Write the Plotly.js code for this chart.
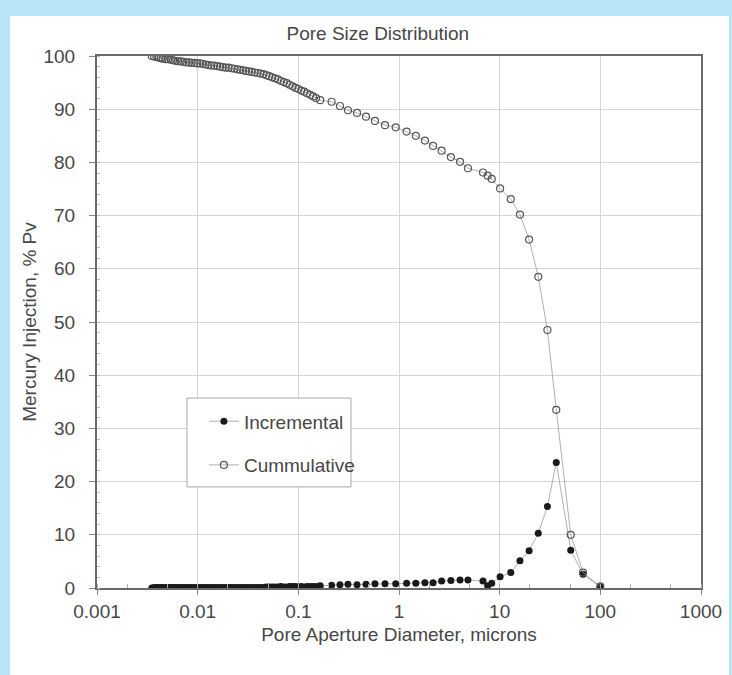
<!DOCTYPE html>
<html>
<head>
<meta charset="utf-8">
<script src="https://cdn.plot.ly/plotly-3.0.1.min.js"></script>
<style>
  html, body { margin: 0; padding: 0; background: #b8e4f8; width: 732px; height: 675px; overflow: hidden; }
  #chart { position: absolute; left: 10px; top: 16px; width: 719px; height: 659px; background: #ffffff; }
</style>
</head>
<body>
<div id="chart"></div>
<script>
// Pore aperture diameter, microns
const diameter = [
  0.0035, 0.0037, 0.0039, 0.0041, 0.0043, 0.0045, 0.0048, 0.0051, 0.0054, 0.0057,
  0.0060, 0.0064, 0.0068, 0.0072, 0.0077, 0.0082, 0.0087, 0.0093, 0.0099, 0.0106,
  0.0113, 0.0120, 0.0128, 0.0137, 0.0146, 0.0156, 0.0167, 0.0178, 0.0190, 0.0203,
  0.0217, 0.0232, 0.0248, 0.0265, 0.0283, 0.0302, 0.0323, 0.0345, 0.0369, 0.0394,
  0.0421, 0.0450, 0.0481, 0.0514, 0.0550, 0.0588, 0.0628, 0.0672, 0.0718, 0.0768,
  0.0820, 0.0877, 0.0937, 0.100, 0.107, 0.114, 0.122, 0.131, 0.140, 0.150,
  0.165, 0.214, 0.259, 0.311, 0.383, 0.470, 0.577, 0.726, 0.927, 1.19,
  1.47, 1.81, 2.18, 2.65, 3.28, 4.04, 4.84, 6.83, 7.6, 8.34,
  10.1, 12.9, 15.9, 19.6, 24.2, 29.8, 36.5, 50.8, 67.3, 100
];
// Cumulative mercury injection, % Pv
const cumulative = [
  100.0, 99.9, 99.8, 99.7, 99.6, 99.5, 99.4, 99.4, 99.3, 99.2,
  99.1, 99.0, 99.0, 98.9, 98.8, 98.8, 98.7, 98.7, 98.6, 98.6,
  98.5, 98.4, 98.3, 98.2, 98.2, 98.1, 98.0, 97.9, 97.8, 97.8,
  97.7, 97.6, 97.5, 97.4, 97.3, 97.2, 97.1, 97.0, 96.9, 96.8,
  96.7, 96.6, 96.4, 96.2, 96.0, 95.8, 95.6, 95.3, 95.1, 94.9,
  94.6, 94.3, 94.0, 93.8, 93.5, 93.3, 93.0, 92.7, 92.4, 92.1,
  91.7, 91.4, 90.6, 89.8, 89.3, 88.6, 87.8, 87.0, 86.6, 85.8,
  85.0, 84.1, 83.1, 82.2, 81.0, 80.1, 78.9, 78.1, 77.5, 76.9,
  75.1, 73.1, 70.2, 65.5, 58.5, 48.5, 33.5, 10.0, 2.9, 0.3
];
// Incremental mercury injection, % Pv
const incremental = [
  0.0, 0.1, 0.1, 0.1, 0.1, 0.1, 0.1, 0.1, 0.1, 0.1,
  0.1, 0.1, 0.1, 0.1, 0.1, 0.1, 0.1, 0.1, 0.1, 0.1,
  0.1, 0.1, 0.1, 0.1, 0.1, 0.1, 0.1, 0.1, 0.1, 0.1,
  0.1, 0.1, 0.1, 0.1, 0.1, 0.1, 0.1, 0.1, 0.1, 0.1,
  0.1, 0.1, 0.2, 0.2, 0.2, 0.2, 0.2, 0.3, 0.2, 0.2,
  0.3, 0.3, 0.3, 0.2, 0.3, 0.2, 0.3, 0.3, 0.3, 0.3,
  0.4, 0.5, 0.6, 0.7, 0.6, 0.7, 0.8, 0.8, 0.8, 0.9,
  0.9, 1.0, 1.0, 1.3, 1.4, 1.5, 1.5, 1.3, 0.4, 0.9,
  2.1, 2.9, 5.1, 7.0, 10.3, 15.3, 23.6, 7.1, 2.6, 0.2
];
const xTickVals = [0.001, 0.01, 0.1, 1, 10, 100, 1000];
const xTickText = ['0.001', '0.01', '0.1', '1', '10', '100', '1000'];

const FONT = 'Liberation Sans, Arial, sans-serif';
const TXT = '#474747';
const FS = 19;

const traces = [
  {
    x: diameter, y: incremental, name: 'Incremental', type: 'scatter', mode: 'lines+markers',
    legendgroup: 'a',
    line: { color: '#9a9a9a', width: 0.8 },
    marker: { symbol: 'circle', size: 7, color: '#1a1a1a', line: { width: 0 } }
  },
  {
    x: diameter, y: cumulative, name: 'Cummulative', type: 'scatter', mode: 'lines+markers',
    legendgroup: 'b',
    line: { color: '#9a9a9a', width: 0.8 },
    marker: { symbol: 'circle-open', size: 7, color: '#555555', line: { width: 1.2 } }
  }
];

const layout = {
  width: 719, height: 659,
  margin: { l: 87, r: 28, t: 40, b: 87 },
  paper_bgcolor: '#ffffff', plot_bgcolor: '#ffffff',
  font: { family: FONT, size: FS, color: TXT },
  title: { text: 'Pore Size Distribution', x: 0.465, xref: 'paper', xanchor: 'center',
           y: 0.974, yref: 'container', yanchor: 'middle',
           font: { family: FONT, size: FS, color: TXT } },
  showlegend: true,
  legend: {
    x: 0.177, y: 0.349, xanchor: 'left', yanchor: 'top',
    bgcolor: 'rgba(0,0,0,0)', borderwidth: 0,
    font: { family: FONT, size: FS, color: TXT },
    tracegroupgap: 16, traceorder: 'grouped'
  },
  shapes: [
    { type: 'rect', xref: 'paper', yref: 'paper', x0: 0.149, x1: 0.4205, y0: 0.190, y1: 0.357,
      fillcolor: '#ffffff', line: { color: '#a8a8a8', width: 1 }, layer: 'above' }
  ],
  xaxis: {
    type: 'log', range: [-3, 3],
    tickvals: xTickVals, ticktext: xTickText,
    showgrid: true, gridcolor: '#d4d4d4', gridwidth: 1,
    showline: true, linecolor: '#6a6a6a', linewidth: 2, mirror: true,
    ticks: 'outside', ticklen: 5, tickcolor: '#888',
    minor: { ticks: 'inside', ticklen: 4, tickcolor: '#aaa', showgrid: false },
    zeroline: false,
    title: { text: 'Pore Aperture Diameter, microns', font: { family: FONT, size: FS, color: TXT }, standoff: 7 }
  },
  yaxis: {
    range: [0, 100], dtick: 10,
    showgrid: true, gridcolor: '#d4d4d4', gridwidth: 1,
    showline: true, linecolor: '#6a6a6a', linewidth: 2, mirror: true,
    ticks: 'outside', ticklen: 6, tickcolor: '#888',
    minor: { dtick: 2, ticks: 'inside', ticklen: 3, tickcolor: '#bbb', showgrid: false },
    ticklabelstandoff: 10,
    zeroline: false,
    title: { text: 'Mercury Injection, % Pv', font: { family: FONT, size: FS, color: TXT }, standoff: 2 }
  }
};

Plotly.newPlot('chart', traces, layout, { displayModeBar: false, staticPlot: true });
</script>
</body>
</html>
